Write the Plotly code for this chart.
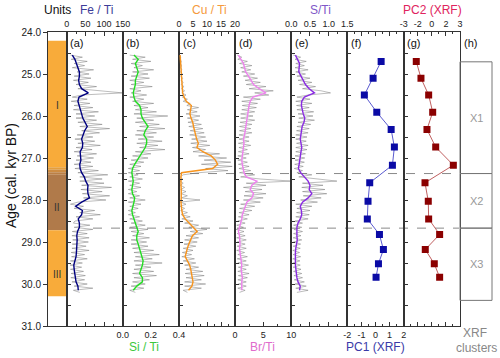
import plotly.graph_objects as go

# ---- data ----
ages_raw = [round(24.55 + 0.05 * i, 2) for i in range(114)]
ages_smooth = [round(24.55 + 0.1 * i, 2) for i in range(57)]

fe_raw = [10, 42, 12, 55, 20, 48, 15, 72, 28, 60,
          20, 65, 18, 58, 25, 80, 30, 95, 150, 40,
          15, 55, 12, 62, 20, 70, 18, 85, 25, 75,
          25, 80, 30, 95, 35, 115, 40, 88, 28, 70,
          22, 75, 30, 90, 25, 68, 20, 80, 28, 72,
          25, 65, 20, 70, 22, 85, 30, 110, 35, 95,
          35, 100, 40, 120, 38, 95, 42, 115, 45, 105,
          30, 10, 45, 20, 75, 35, 90, 25, 70, 22,
          18, 62, 20, 70, 15, 55, 14, 60, 16, 58,
          15, 52, 14, 60, 12, 48, 13, 55, 10, 42,
          9, 40, 10, 45, 12, 50, 11, 48, 14, 55,
          20, 70, 18, 35]
fe_smooth = [15, 22, 26, 29, 34, 34, 32, 34, 40, 58,
             33, 30, 34, 37, 40, 43, 48, 55, 48, 44,
             40, 43, 42, 36, 38, 38, 35, 36, 40, 47,
             51, 57, 56, 57, 61, 40, 24, 42, 40, 31,
             34, 34, 29, 27, 28, 28, 27, 26, 25, 21,
             19, 20, 22, 23, 25, 30, 31]

si_raw = [0.05, 0.16, 0.07, 0.20, 0.06, 0.14, 0.08, 0.22, 0.07, 0.18,
          0.06, 0.19, 0.05, 0.15, 0.06, 0.21, 0.05, 0.13, 0.06, 0.17,
          0.05, 0.15, 0.07, 0.22, 0.08, 0.18, 0.09, 0.24, 0.08, 0.32,
          0.10, 0.22, 0.09, 0.26, 0.12, 0.30, 0.10, 0.24, 0.09, 0.22,
          0.11, 0.28, 0.10, 0.25, 0.12, 0.30, 0.09, 0.20, 0.07, 0.18,
          0.06, 0.15, 0.05, 0.13, 0.04, 0.12, 0.04, 0.11, 0.05, 0.14,
          0.04, 0.12, 0.05, 0.13, 0.04, 0.10, 0.04, 0.12, 0.05, 0.16,
          0.04, 0.13, 0.05, 0.11, 0.04, 0.09, 0.04, 0.12, 0.05, 0.14,
          0.06, 0.16, 0.05, 0.18, 0.06, 0.15, 0.07, 0.19, 0.06, 0.17,
          0.06, 0.18, 0.07, 0.22, 0.08, 0.26, 0.09, 0.21, 0.08, 0.28,
          0.09, 0.20, 0.08, 0.22, 0.07, 0.24, 0.08, 0.19, 0.07, 0.16,
          0.06, 0.15, 0.05, 0.09]
si_smooth = [0.08, 0.11, 0.09, 0.10, 0.11, 0.10, 0.09, 0.09, 0.08, 0.075,
             0.08, 0.09, 0.12, 0.13, 0.13, 0.14, 0.16, 0.18, 0.16, 0.15,
             0.17, 0.17, 0.16, 0.14, 0.12, 0.10, 0.085, 0.07, 0.065, 0.07,
             0.075, 0.07, 0.065, 0.07, 0.085, 0.08, 0.075, 0.065, 0.07, 0.08,
             0.09, 0.10, 0.11, 0.10, 0.10, 0.11, 0.12, 0.13, 0.14, 0.145,
             0.14, 0.13, 0.12, 0.14, 0.14, 0.10, 0.075]

cu_raw = [0.3, 0.6, 0.4, 0.8, 0.5, 0.9, 0.6, 1.0, 0.5, 1.2,
          0.6, 1.3, 0.7, 1.5, 0.8, 1.8, 0.9, 2.0, 1.0, 2.5,
          1.2, 3.0, 1.5, 4.0, 2.8, 7.0, 3.0, 6.5, 2.5, 7.5,
          3.0, 7.0, 3.2, 8.0, 3.5, 8.5, 4.0, 9.0, 3.8, 9.5,
          4.5, 10.0, 4.2, 11.0, 4.8, 9.5, 5.0, 14.5, 7.0, 17.0,
          9.0, 18.5, 8.0, 19.0, 9.5, 17.5, 7.0, 1.5, 0.5, 1.2,
          0.4, 1.5, 0.5, 2.0, 0.6, 2.5, 0.7, 3.0, 0.8, 7.5,
          0.5, 2.5, 0.4, 2.0, 0.6, 3.0, 0.8, 4.0, 1.0, 5.0,
          2.0, 7.0, 3.5, 10.0, 4.0, 8.5, 2.5, 7.0, 2.0, 6.5,
          1.8, 6.0, 1.5, 5.0, 1.2, 4.5, 1.0, 5.5, 1.5, 6.0,
          2.0, 7.0, 2.5, 8.5, 2.2, 9.0, 2.5, 8.0, 2.0, 9.5,
          2.0, 8.0, 1.5, 3.0]
cu_smooth = [0.4, 0.5, 0.5, 0.6, 0.7, 0.8, 0.8, 0.9, 1.0, 1.3,
             1.8, 2.6, 4.4, 4.2, 3.9, 4.3, 4.9, 5.2, 5.5, 5.8,
             6.3, 6.9, 6.4, 8.5, 11.5, 13.0, 13.8, 12.0, 0.9, 0.7,
             0.6, 0.7, 0.8, 0.9, 0.8, 0.7, 0.8, 1.0, 1.3, 2.2,
             3.6, 5.0, 6.5, 4.8, 4.0, 3.5, 3.0, 2.5, 2.2, 3.0,
             3.8, 4.2, 4.5, 4.8, 5.0, 4.6, 3.4]

br_raw = [0.4, 1.2, 0.5, 2.2, 0.8, 3.0, 1.0, 2.8, 1.2, 3.5,
          1.5, 4.0, 1.8, 4.5, 2.0, 5.5, 2.5, 6.8, 3.5, 6.0,
          1.5, 4.5, 1.2, 4.0, 1.3, 3.8, 1.2, 3.5, 1.0, 3.2,
          1.0, 3.5, 0.9, 3.0, 0.8, 2.8, 0.8, 3.0, 0.7, 2.5,
          0.7, 2.5, 0.6, 2.8, 0.7, 2.2, 0.6, 2.5, 0.5, 2.0,
          0.5, 2.2, 0.6, 2.5, 0.7, 2.8, 0.8, 3.5, 1.0, 4.5,
          10.0, 2.0, 5.5, 1.5, 4.8, 1.8, 5.5, 1.6, 5.0, 1.5,
          4.5, 1.0, 3.5, 0.8, 3.0, 0.7, 2.5, 0.6, 2.2, 0.5,
          1.8, 0.3, 1.5, 0.2, 1.6, 0.4, 1.8, 0.3, 2.0, 0.4,
          1.8, 0.4, 2.0, 0.3, 1.7, 0.5, 2.2, 0.4, 2.0, 0.5,
          2.4, 0.6, 2.0, 0.5, 2.5, 0.6, 2.2, 0.5, 2.0, 0.6,
          2.0, 0.5, 1.8, 0.8]
br_smooth = [0.6, 1.0, 1.5, 1.7, 1.9, 2.4, 2.9, 3.3, 4.3, 5.5,
             3.2, 2.7, 2.5, 2.4, 2.3, 2.1, 2.0, 1.9, 1.8, 1.7,
             1.5, 1.6, 1.5, 1.4, 1.3, 1.2, 1.3, 1.5, 1.6, 2.0,
             3.9, 3.0, 2.7, 3.3, 3.0, 2.1, 1.8, 1.5, 1.3, 1.2,
             1.0, 0.8, 0.6, 0.8, 0.9, 0.9, 0.8, 0.9, 1.0, 1.1,
             1.2, 1.1, 1.2, 1.3, 1.2, 1.2, 1.2]

s_raw = [0.05, 0.25, 0.10, 0.40, 0.12, 0.35, 0.10, 0.45, 0.12, 0.38,
         0.15, 0.50, 0.18, 0.55, 0.22, 0.65, 0.30, 0.80, 1.05, 0.45,
         0.15, 0.50, 0.12, 0.55, 0.14, 0.48, 0.15, 0.60, 0.18, 0.58,
         0.20, 0.62, 0.18, 0.52, 0.15, 0.48, 0.14, 0.45, 0.12, 0.42,
         0.12, 0.40, 0.14, 0.45, 0.12, 0.42, 0.12, 0.38, 0.10, 0.36,
         0.10, 0.35, 0.09, 0.32, 0.08, 0.30, 0.15, 0.55, 0.20, 0.70,
         1.22, 0.30, 0.85, 0.28, 0.90, 0.30, 0.95, 0.32, 0.80, 0.25,
         0.70, 0.12, 0.55, 0.15, 0.50, 0.14, 0.48, 0.12, 0.45, 0.10,
         0.30, 0.06, 0.28, 0.07, 0.30, 0.06, 0.26, 0.05, 0.28, 0.06,
         0.25, 0.05, 0.24, 0.04, 0.22, 0.05, 0.25, 0.04, 0.23, 0.05,
         0.24, 0.05, 0.26, 0.06, 0.28, 0.07, 0.30, 0.08, 0.35, 0.10,
         0.40, 0.12, 0.45, 0.15]
s_smooth = [0.11, 0.16, 0.22, 0.21, 0.20, 0.26, 0.32, 0.38, 0.48, 0.62,
            0.35, 0.28, 0.27, 0.29, 0.32, 0.36, 0.34, 0.29, 0.27, 0.25,
            0.24, 0.26, 0.28, 0.26, 0.25, 0.23, 0.21, 0.19, 0.25, 0.35,
            0.45, 0.50, 0.48, 0.55, 0.45, 0.30, 0.24, 0.27, 0.28, 0.24,
            0.18, 0.15, 0.14, 0.15, 0.16, 0.13, 0.12, 0.11, 0.12, 0.11,
            0.11, 0.12, 0.13, 0.15, 0.18, 0.24, 0.22]

pc_ages = [24.70, 25.10, 25.50, 25.91, 26.32, 26.74, 27.17,
           27.59, 28.03, 28.45, 28.82, 29.18, 29.52, 29.84]
pc1 = [0.40, -0.17, -0.79, 0.09, 1.11, 1.34, 1.20,
       -0.41, -0.53, -0.58, 0.28, 0.56, 0.21, 0.04]
pc2 = [-1.66, -1.16, -0.34, 0.09, -0.52, 0.41, 2.29,
       -0.73, -0.38, -0.34, 0.83, -0.70, 0.26, 0.83]

zone_names = ["I", "II", "III"]
zone_label_ages = [25.76, 28.18, 29.78]
boundary_ages = [27.37, 28.67]
cluster_names = ["X1", "X2", "X3"]
cluster_tops = [24.71, 27.37, 28.67]
cluster_bottoms = [27.37, 28.67, 30.39]

# ---- geometry ----
W, H = 500, 358
ML, MR, MT, MB = 48, 6, 32, 32
edges = [48, 66.7, 122.7, 179, 235, 291.3, 347.3, 403.7, 460]
FONT = "Arial, Liberation Sans, sans-serif"
LINE = "#333333"
GRAY = "rgba(110,110,110,0.65)"


def px(p):
    return (p - ML) / (W - ML - MR)


def py(p):
    return (H - MB - p) / (H - MT - MB)


fig = go.Figure()

# panels: raw, smooth, colour, range, side, tickvals, ticktext, minor dtick
panels = [
    (fe_raw, fe_smooth, "#000080", [0, 150], "top", [0, 50, 100, 150], ["0", "50", "100", "150"], 25),
    (si_raw, si_smooth, "#22dd22", [0, 0.4], "bottom", [0, 0.2, 0.4], ["0.0", "0.2", "0.4"], 0.1),
    (cu_raw, cu_smooth, "#f7941d", [0, 20], "top", [0, 5, 10, 15, 20], ["0", "5", "10", "15", "20"], 2.5),
    (br_raw, br_smooth, "#ee82ee", [0, 10], "bottom", [0, 5, 10], ["0", "5", "10"], 2.5),
    (s_raw, s_smooth, "#8a2be2", [0, 1.5], "top", [0, 0.5, 1.0, 1.5], ["0.0", "0.5", "1.0", "1.5"], 0.25),
]

layout_axes = {}
# zone column
layout_axes["xaxis"] = dict(domain=[px(edges[0]), px(edges[1])], range=[0, 1], anchor="y",
                            showline=True, mirror=True, linecolor=LINE, ticks="",
                            showticklabels=False, showgrid=False, zeroline=False)
layout_axes["yaxis"] = dict(domain=[0, 1], range=[31, 24], anchor="x", showline=True, mirror=True,
                            linecolor=LINE, ticks="outside", ticklen=4, tickcolor=LINE,
                            tickvals=[24, 25, 26, 27, 28, 29, 30, 31],
                            ticktext=["24.0", "25.0", "26.0", "27.0", "28.0", "29.0", "30.0", "31.0"],
                            tickfont=dict(size=10, color="#222"), showgrid=False, zeroline=False)
fig.add_trace(go.Scatter(x=[None], y=[None], xaxis="x", yaxis="y", showlegend=False))


def add_axes(i, rng, side, tickvals, ticktext, minor_dtick):
    layout_axes[f"xaxis{i}"] = dict(
        domain=[px(edges[i - 1]), px(edges[i])], range=rng, anchor=f"y{i}", side=side,
        showline=True, mirror="ticks", linecolor=LINE, ticks="inside", ticklen=4, tickcolor=LINE,
        tickvals=tickvals, ticktext=ticktext, tickfont=dict(size=9, color="#222"),
        minor=dict(ticks="inside", ticklen=2, tickcolor=LINE, dtick=minor_dtick, tick0=rng[0]),
        showgrid=False, zeroline=False)
    layout_axes[f"yaxis{i}"] = dict(
        domain=[0, 1], range=[31, 24], anchor=f"x{i}", showline=True, mirror=True, linecolor=LINE,
        ticks="inside", ticklen=4, tickcolor=LINE, dtick=0.5, tick0=24,
        showticklabels=False, showgrid=False, zeroline=False)


for k, (raw, smooth, col, rng, side, tv, tt, mdt) in enumerate(panels):
    i = k + 2
    add_axes(i, rng, side, tv, tt, mdt)
    fig.add_trace(go.Scatter(x=raw, y=ages_raw, xaxis=f"x{i}", yaxis=f"y{i}", mode="lines",
                             line=dict(color=GRAY, width=0.7), showlegend=False))
    fig.add_trace(go.Scatter(x=smooth, y=ages_smooth, xaxis=f"x{i}", yaxis=f"y{i}", mode="lines",
                             line=dict(color=col, width=1.4), showlegend=False))

# PC1 / PC2
add_axes(7, [-2, 2], "bottom", [-2, -1, 0, 1, 2], ["-2", "-1", "0", "1", "2"], 0.5)
add_axes(8, [-3, 3], "top", [-3, -1.5, 0, 1.5, 3], ["-3", "-2", "0", "2", "3"], 0.75)
fig.add_trace(go.Scatter(x=pc1, y=pc_ages, xaxis="x7", yaxis="y7", mode="lines+markers",
                         line=dict(color="#5a5ad0", width=1),
                         marker=dict(symbol="square", size=7, color="#0a0aa5"), showlegend=False))
fig.add_trace(go.Scatter(x=pc2, y=pc_ages, xaxis="x8", yaxis="y8", mode="lines+markers",
                         line=dict(color="#c06060", width=1),
                         marker=dict(symbol="square", size=7, color="#8b0000"), showlegend=False))

shapes = []
# zone column
zone_fill = [("#f8ab3a", 24.21, 27.22), ("#e39e3e", 27.22, 27.28), ("#cd8c42", 27.28, 27.34),
             ("#bb8046", 27.34, 27.40), ("#b07a4a", 27.40, 28.72), ("#f8ab3a", 28.72, 30.29)]
for c, y0, y1 in zone_fill:
    shapes.append(dict(type="rect", xref="x", yref="y", x0=0, x1=1, y0=y0, y1=y1,
                       fillcolor=c, line=dict(width=0), layer="below"))
# dashed boundaries
for b, x0 in zip(boundary_ages, [118, 93]):
    shapes.append(dict(type="line", xref="paper", yref="y", x0=px(x0), x1=px(459), y0=b, y1=b,
                       line=dict(color="#8a8a8a", width=1, dash="dash"), layer="below"))
# cluster boxes
for t, b in zip(cluster_tops, cluster_bottoms):
    shapes.append(dict(type="rect", xref="paper", yref="y", x0=px(460), x1=px(492), y0=t, y1=b,
                       line=dict(color="#777", width=1)))

ann = []


def text(s, x, y, color="#111", size=12, xanchor="center", yref="paper", angle=0):
    ann.append(dict(text=s, x=px(x), y=(py(y) if yref == "paper" else y), xref="paper", yref=yref,
                    showarrow=False, xanchor=xanchor, yanchor="middle", textangle=angle,
                    font=dict(size=size, color=color, family=FONT)))


text("Units", 57, 10)
text("Fe / Ti", 96, 10, "#3d3d99")
text("Cu / Ti", 209, 10, "#f59a3c")
text("S/Ti", 320, 10, "#8058c8")
text("PC2 (XRF)", 432, 10, "#e0245e")
text("Si / Ti", 144, 347, "#3cc83c")
text("Br/Ti", 262, 347, "#e06ccc")
text("PC1 (XRF)", 375, 347, "#3a3aa8")
text("XRF", 475, 333, "#888")
text("clusters", 476, 348, "#888")
text("Age (cal. kyr BP)", 11, 176, "#111", size=14, angle=-90)
for lab, x in zip(["(a)", "(b)", "(c)", "(d)", "(e)", "(f)", "(g)", "(h)"],
                  [68, 124, 180.5, 236.5, 292.5, 349, 405, 462]):
    text(lab, x, 43, "#111", size=11, xanchor="left")
for name, a in zip(zone_names, zone_label_ages):
    text(name, 57.3, a, "#333", size=10, yref="y")
for name, t, b in zip(cluster_names, cluster_tops, cluster_bottoms):
    text(name, 476, (t + b) / 2, "#999", size=11, yref="y")

fig.update_layout(
    template="none",
    width=W, height=H,
    margin=dict(l=ML, r=MR, t=MT, b=MB),
    paper_bgcolor="white", plot_bgcolor="white",
    font=dict(family=FONT, size=10, color="#222"),
    showlegend=False,
    shapes=shapes, annotations=ann,
    **layout_axes,
)

# the page's default body margin would shift the figure by 8px
fig.write_html("out.html", config={"displayModeBar": False},
               post_script="document.body.style.margin='0px';")
